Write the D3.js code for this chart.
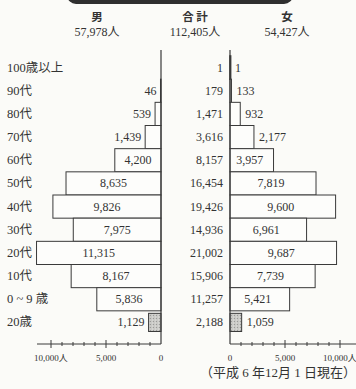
<!DOCTYPE html>
<html><head><meta charset="utf-8">
<script src="https://cdn.jsdelivr.net/npm/d3@7"></script>
<style>
body{margin:0;background:#fbfbf8;}
svg{display:block;}
text{font-family:"Liberation Serif","Noto Sans CJK JP",serif;fill:#333;}
</style></head>
<body>
<svg id="c" width="356" height="389"></svg>
<script>
const categories = ["100歳以上","90代","80代","70代","60代","50代","40代","30代","20代","10代","0 ~ 9 歳","20歳"];
const male   = [0, 46, 539, 1439, 4200, 8635, 9826, 7975, 11315, 8167, 5836, 1129];
const female = [1, 133, 932, 2177, 3957, 7819, 9600, 6961, 9687, 7739, 5421, 1059];
const total  = [1, 179, 1471, 3616, 8157, 16454, 19426, 14936, 21002, 15906, 11257, 2188];
const headers = [["男","57,978人"],["合 計","112,405人"],["女","54,427人"]];
const axisTicks = [0, 5000, 10000];
const axisTickLabels = ["0","5,000","10,000人"];
const footnote = "（平成 6 年12月 1 日現在）";

const svg = d3.select("#c");
const ink = "#3a3a3a";
const fmt = d3.format(",");

// stipple pattern for highlighted row
const defs = svg.append("defs");
const pat = defs.append("pattern").attr("id","dots").attr("width",3).attr("height",3).attr("patternUnits","userSpaceOnUse");
pat.append("rect").attr("width",3).attr("height",3).attr("fill","#c9c9c6");
pat.append("rect").attr("x",0).attr("y",0).attr("width",1).attr("height",1).attr("fill","#9a9a98");
pat.append("rect").attr("x",2).attr("y",1.5).attr("width",1).attr("height",1).attr("fill","#e2e2df");

// top dark tab
svg.append("rect").attr("x",67).attr("y",-20).attr("width",226).attr("height",24).attr("rx",9).attr("fill","#2f2f2f");

const y = d3.scaleBand().domain(categories).range([56,334]).padding(0);
const xL = d3.scaleLinear().domain([0,10000]).range([161,51]);
const xR = d3.scaleLinear().domain([0,10000]).range([230,340]);

// headers
const hx = [97,195,287];
headers.forEach((h,i)=>{
  svg.append("text").attr("x",hx[i]).attr("y",16).attr("text-anchor","middle").attr("dominant-baseline","central")
    .style("font-family","'Noto Sans CJK JP'").style("font-weight","bold").style("font-size","11.5px").text(h[0]);
  svg.append("text").attr("x",hx[i]).attr("y",32).attr("text-anchor","middle").attr("dominant-baseline","central")
    .style("font-size","12px").text(h[1]);
});

// category labels
svg.selectAll(".cat").data(categories).join("text")
  .attr("x",7).attr("y",d=>y(d)+y.bandwidth()/2).attr("dominant-baseline","central")
  .style("font-size","12.5px").text(d=>d);

const last = categories[categories.length-1];
function barY(d){ return d===last ? y(d)+2.5 : y(d); }
function barH(d){ return d===last ? y.bandwidth()-5 : y.bandwidth(); }

// bars
categories.forEach((c,i)=>{
  const v = male[i];
  if (v>0) svg.append("rect").attr("x",xL(v)).attr("y",barY(c)).attr("width",xL(0)-xL(v)).attr("height",barH(c))
    .attr("fill",c===last?"url(#dots)":"#fdfdfb").attr("stroke",ink).attr("stroke-width",1);
  const f = female[i];
  svg.append("rect").attr("x",xR(0)).attr("y",barY(c)).attr("width",Math.max(xR(f)-xR(0),0.6)).attr("height",barH(c))
    .attr("fill",c===last?"url(#dots)":"#fdfdfb").attr("stroke",ink).attr("stroke-width",f<5?1.6:1);
});

// center lines
svg.append("line").attr("x1",xL(0)).attr("x2",xL(0)).attr("y1",50).attr("y2",344).attr("stroke",ink).attr("stroke-width",1.2);
svg.append("line").attr("x1",xR(0)).attr("x2",xR(0)).attr("y1",50).attr("y2",344).attr("stroke",ink).attr("stroke-width",1.2);

// value labels
categories.forEach((c,i)=>{
  const cy = y(c)+y.bandwidth()/2;
  const m = male[i];
  if (m>0){
    const w = xL(0)-xL(m);
    const inside = w>38 && c!==last;
    svg.append("text").attr("y",cy).attr("dominant-baseline","central").style("font-size","12px")
      .attr("x", inside ? (xL(m)+xL(0))/2 : xL(m)-4)
      .attr("text-anchor", inside ? "middle" : "end").text(fmt(m));
  }
  const f = female[i];
  const wf = xR(f)-xR(0);
  const insideF = wf>38 && c!==last;
  svg.append("text").attr("y",cy).attr("dominant-baseline","central").style("font-size","12px")
    .attr("x", insideF ? (xR(0)+xR(f))/2 - 2 : xR(f)+5)
    .attr("text-anchor", insideF ? "middle" : "start").text(fmt(f));
  svg.append("text").attr("y",cy).attr("dominant-baseline","central").style("font-size","12px")
    .attr("x",223).attr("text-anchor","end").text(fmt(total[i]));
});

// axes
const axY = 344;
function drawAxis(sc, ext){
  const g = svg.append("g");
  g.append("line").attr("x1",sc(0)).attr("x2",ext).attr("y1",axY).attr("y2",axY).attr("stroke",ink).attr("stroke-width",1);
  d3.range(1000,10001,1000).forEach(t=>{
    const major = t%5000===0;
    g.append("line").attr("x1",sc(t)).attr("x2",sc(t)).attr("y1",axY-(major?4:2)).attr("y2",axY+(major?4:2))
      .attr("stroke",ink).attr("stroke-width",1);
  });
  axisTicks.forEach((t,i)=>{
    g.append("text").attr("x",sc(t)).attr("y",axY+14).attr("text-anchor","middle").attr("dominant-baseline","central")
      .style("font-size","9px").text(axisTickLabels[i]);
  });
}
drawAxis(xL, 37);
drawAxis(xR, 356);

// footnote
svg.append("text").attr("x",356).attr("y",372).attr("text-anchor","end").attr("dominant-baseline","central")
  .style("font-size","13px").text(footnote);
</script>
</body></html>
